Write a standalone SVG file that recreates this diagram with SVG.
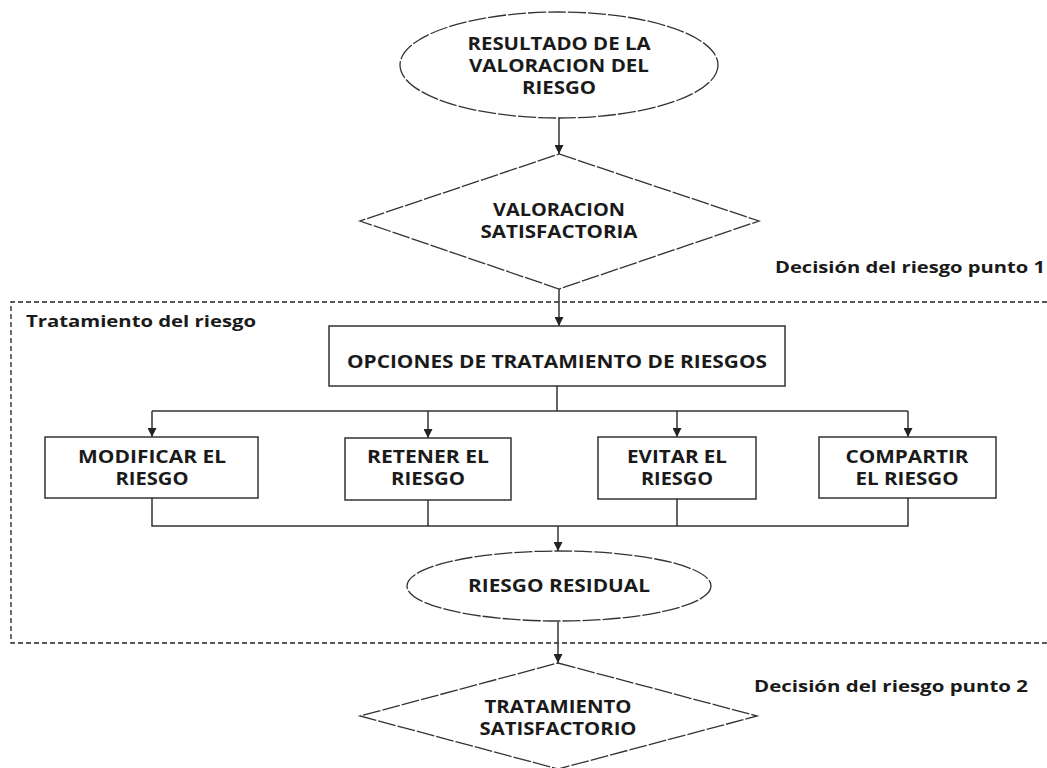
<svg xmlns="http://www.w3.org/2000/svg" width="1047" height="768" viewBox="0 0 1047 768">
<defs>
<marker id="arr" viewBox="0 0 10 10" refX="10" refY="5" markerWidth="9" markerHeight="9" markerUnits="userSpaceOnUse" orient="auto">
<path d="M0,0 L10,5 L0,10 Z" fill="#222"/>
</marker>
<style>
.t{font-family:"Open Sans","Liberation Sans",sans-serif;font-weight:700;fill:#1a1a1a;text-anchor:middle;font-size:18px}
.l{font-family:"Open Sans","Liberation Sans",sans-serif;font-weight:700;fill:#1a1a1a;font-size:16px}
.dash{fill:#fff;stroke:#333;stroke-width:1.3;stroke-dasharray:18 2}
.box{fill:#fff;stroke:#333;stroke-width:1.5}
.c{fill:none;stroke:#333;stroke-width:1.5}
.frame{fill:none;stroke:#222;stroke-width:1.3;stroke-dasharray:5 3}
</style>
</defs>
<rect width="1047" height="768" fill="#fff"/>
<g id="frame">
<path class="frame" d="M1047,302 H11 V643 H1047"/>
<text class="l" x="26" y="327" textLength="230" lengthAdjust="spacingAndGlyphs">Tratamiento del riesgo</text>
</g>
<g id="labels">
<text class="l" x="775" y="273" textLength="270" lengthAdjust="spacingAndGlyphs">Decisión del riesgo punto 1</text>
<text class="l" x="754" y="692" textLength="274" lengthAdjust="spacingAndGlyphs">Decisión del riesgo punto 2</text>
</g>
<g id="connectors">
<path class="c" d="M559,118 V154" marker-end="url(#arr)"/>
<path class="c" d="M559,289 V326" marker-end="url(#arr)"/>
<path class="c" d="M557,386 V411 M152,411 H908"/>
<path class="c" d="M152,411 V437" marker-end="url(#arr)"/>
<path class="c" d="M428,411 V438" marker-end="url(#arr)"/>
<path class="c" d="M677,411 V437" marker-end="url(#arr)"/>
<path class="c" d="M908,411 V437" marker-end="url(#arr)"/>
<path class="c" d="M152,498 V526 H908 V498 M428,500 V526 M677,499 V526"/>
<path class="c" d="M558,526 V551" marker-end="url(#arr)"/>
<path class="c" d="M558,622 V663" marker-end="url(#arr)"/>
</g>
<g id="resultado">
<ellipse class="dash" cx="559" cy="65" rx="159" ry="53"/>
<text class="t" x="559" y="50" textLength="183" lengthAdjust="spacingAndGlyphs">RESULTADO DE LA</text>
<text class="t" x="559" y="72" textLength="180" lengthAdjust="spacingAndGlyphs">VALORACION DEL</text>
<text class="t" x="559" y="94" textLength="74" lengthAdjust="spacingAndGlyphs">RIESGO</text>
</g>
<g id="valoracion">
<polygon class="dash" points="559,154 759,221 559,289 360,221"/>
<text class="t" x="559" y="216" textLength="132" lengthAdjust="spacingAndGlyphs">VALORACION</text>
<text class="t" x="559" y="238" textLength="157" lengthAdjust="spacingAndGlyphs">SATISFACTORIA</text>
</g>
<g id="opciones">
<rect class="box" x="329" y="326" width="456" height="60"/>
<text class="t" x="557" y="368" textLength="420" lengthAdjust="spacingAndGlyphs">OPCIONES DE TRATAMIENTO DE RIESGOS</text>
</g>
<g id="modificar">
<rect class="box" x="45" y="437" width="213" height="61"/>
<text class="t" x="152" y="463" textLength="148" lengthAdjust="spacingAndGlyphs">MODIFICAR EL</text>
<text class="t" x="152" y="485" textLength="73" lengthAdjust="spacingAndGlyphs">RIESGO</text>
</g>
<g id="retener">
<rect class="box" x="345" y="438" width="166" height="62"/>
<text class="t" x="428" y="463" textLength="122" lengthAdjust="spacingAndGlyphs">RETENER EL</text>
<text class="t" x="428" y="485" textLength="74" lengthAdjust="spacingAndGlyphs">RIESGO</text>
</g>
<g id="evitar">
<rect class="box" x="598" y="437" width="158" height="62"/>
<text class="t" x="677" y="463" textLength="100" lengthAdjust="spacingAndGlyphs">EVITAR EL</text>
<text class="t" x="677" y="485" textLength="72" lengthAdjust="spacingAndGlyphs">RIESGO</text>
</g>
<g id="compartir">
<rect class="box" x="819" y="437" width="177" height="61"/>
<text class="t" x="907" y="463" textLength="123" lengthAdjust="spacingAndGlyphs">COMPARTIR</text>
<text class="t" x="907" y="485" textLength="103" lengthAdjust="spacingAndGlyphs">EL RIESGO</text>
</g>
<g id="residual">
<ellipse class="dash" cx="559" cy="586" rx="152" ry="35"/>
<text class="t" x="559" y="592" textLength="182" lengthAdjust="spacingAndGlyphs">RIESGO RESIDUAL</text>
</g>
<g id="tratamiento">
<polygon class="dash" points="558,663 757,716 558,769 360,716"/>
<text class="t" x="558" y="713" textLength="147" lengthAdjust="spacingAndGlyphs">TRATAMIENTO</text>
<text class="t" x="558" y="735" textLength="157" lengthAdjust="spacingAndGlyphs">SATISFACTORIO</text>
</g>
</svg>
